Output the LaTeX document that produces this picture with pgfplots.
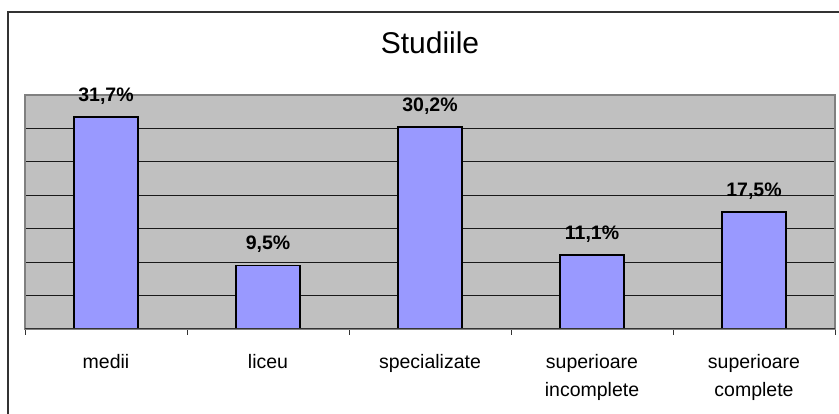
\documentclass[border=0pt]{standalone}
\usepackage{pgfplots}
\pgfplotsset{compat=1.18}
\usepackage{fontspec}
\setmainfont{Liberation Sans}
\definecolor{plotgray}{RGB}{192,192,192}
\definecolor{barblue}{RGB}{153,153,255}
\definecolor{bordergray}{RGB}{128,128,128}
\definecolor{framedark}{RGB}{51,51,51}

\begin{document}
\begin{tikzpicture}[x=1pt,y=1pt]
\clip (0,0) rectangle (839,414);
% outer chart frame
\draw[line width=1.5pt, framedark] (8,-20) -- (8,402) -- (860,402);
% chart title
\node[anchor=base, font=\fontsize{30}{30}\selectfont] at (430,360) {Studiile};
\begin{axis}[
  at={(25pt,85pt)}, anchor=south west,
  width=810pt, height=234pt, scale only axis,
  xmin=-0.5, xmax=4.5, ymin=0, ymax=35,
  axis background/.style={fill=plotgray},
  axis line style={bordergray, line width=1.2pt},
  ybar, bar width=64pt,
  xtick={0,1,2,3,4},
  xticklabels={medii, liceu, specializate, {superioare\\incomplete}, {superioare\\complete}},
  major x tick style={draw=none},
  minor xtick={-0.5,0.5,1.5,2.5,3.5,4.5},
  minor tick length=6pt,
  minor x tick style={black!80, line width=0.8pt},
  tick align=outside,
  tick pos=lower,
  xticklabel style={align=center, anchor=north, inner sep=0pt, yshift=-21pt,
    font=\fontsize{19.5}{27.7}\selectfont},
  ytick={5,10,15,20,25,30},
  yticklabels={},
  major y tick style={draw=none},
  ymajorgrids,
  grid style={black!90, line width=1pt},
  nodes near coords={\pgfmathprintnumber[fixed, fixed zerofill, precision=1, use comma, assume math mode=true]{\pgfplotspointmeta}\%},
  nodes near coords style={anchor=base, inner sep=0pt, yshift=15.5pt,
    font=\fontsize{19.5}{19.5}\selectfont\bfseries},
]
\addplot[fill=barblue, draw=black, line width=1.5pt] coordinates {
  (0,31.7) (1,9.5) (2,30.2) (3,11.1) (4,17.5)
};
\draw[black!80, line width=1.2pt] (axis cs:-0.5,0) -- (axis cs:4.5,0);
\end{axis}
\end{tikzpicture}
\end{document}
